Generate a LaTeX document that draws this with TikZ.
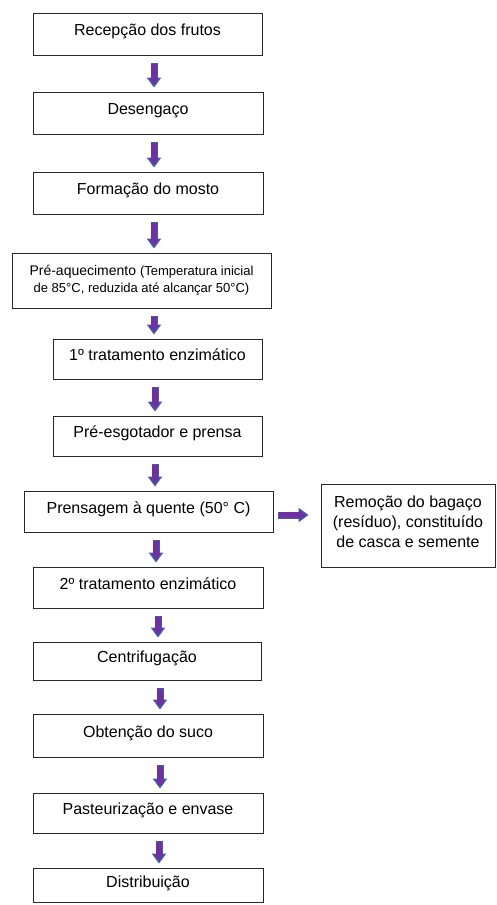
\documentclass[tikz,border=0pt]{standalone}
\usepackage{fontspec}
\setmainfont{Liberation Sans}
\usetikzlibrary{arrows.meta}
\definecolor{arrowblue}{RGB}{68,90,180}
\definecolor{arrowpurple}{RGB}{112,48,160}
\definecolor{boxline}{RGB}{40,40,40}
\tikzset{
  basebox/.style={draw=boxline, line width=0.9pt, inner sep=0pt, align=center},
  stepbox/.style={basebox, font=\fontsize{16}{19}\selectfont, text height=12pt, text depth=9pt},
  arrowrim/.style={draw=arrowblue, line width=7pt, shorten <=8pt, shorten >=4pt,
    -{Triangle[width=14pt,length=10pt]}},
  arrowcore/.style={draw=arrowpurple, line width=5.4pt, shorten <=8.8pt, shorten >=6.6pt,
    -{Triangle[width=9pt,length=6.5pt]}},
}
\begin{document}
\begin{tikzpicture}[x=1pt,y=-1pt]
\useasboundingbox (0,0) rectangle (497,905);
\node[stepbox, minimum width=229pt, minimum height=42pt] (b1) at (147.5,34) {Recepção dos frutos};
\node[stepbox, minimum width=230pt, minimum height=42pt] (b2) at (148,113) {Desengaço};
\node[stepbox, minimum width=230pt, minimum height=42pt] (b3) at (148,193) {Formação do mosto};
\node[basebox, minimum width=259pt, minimum height=55pt, font=\fontsize{14}{17}\selectfont] (b4) at (141.5,280.5)
  {Pré-aquecimento {\fontsize{13}{17}\selectfont(Temperatura inicial}\\{\fontsize{13}{17}\selectfont de 85°C, reduzida até alcançar 50°C)}};
\node[stepbox, minimum width=209pt, minimum height=40pt] (b5) at (157.5,359) {1º tratamento enzimático};
\node[stepbox, minimum width=209pt, minimum height=40pt] (b6) at (157.5,436) {Pré-esgotador e prensa};
\node[stepbox, minimum width=249pt, minimum height=41pt] (b7) at (148.5,511.5) {Prensagem à quente (50° C)};
\node[basebox, minimum width=174pt, minimum height=83pt, font=\fontsize{16}{20}\selectfont] (side) at (408,525.5)
  {Remoção do bagaço\\(resíduo), constituído\\de casca e semente\rule[-7pt]{0pt}{0pt}};
\node[stepbox, minimum width=230pt, minimum height=41pt] (b8) at (148,587.5) {2º tratamento enzimático};
\node[stepbox, minimum width=228pt, minimum height=38pt] (b9) at (147,661) {Centrifugação};
\node[stepbox, minimum width=230pt, minimum height=43pt] (b10) at (148,735.5) {Obtenção do suco};
\node[stepbox, minimum width=230pt, minimum height=40pt] (b11) at (148,813) {Pasteurização e envase};
\node[stepbox, minimum width=230pt, minimum height=34pt, text depth=7pt] (b12) at (148,885) {Distribuição};
\foreach \a/\b/\x in {b1/b2/154, b2/b3/154, b3/b4/154, b4/b5/154, b5/b6/155, b6/b7/155,
                      b7/b8/156, b8/b9/158, b9/b10/160, b10/b11/160, b11/b12/159} {
  \draw[arrowrim] (\a.south -| \x,0) -- (\b.north -| \x,0);
  \draw[arrowcore] (\a.south -| \x,0) -- (\b.north -| \x,0);
}
\draw[arrowrim, shorten <=5pt, shorten >=12pt] (b7.east |- 0,515) -- (side.west |- 0,515);
\draw[arrowcore, shorten <=5.8pt, shorten >=14.6pt] (b7.east |- 0,515) -- (side.west |- 0,515);
\end{tikzpicture}
\end{document}
